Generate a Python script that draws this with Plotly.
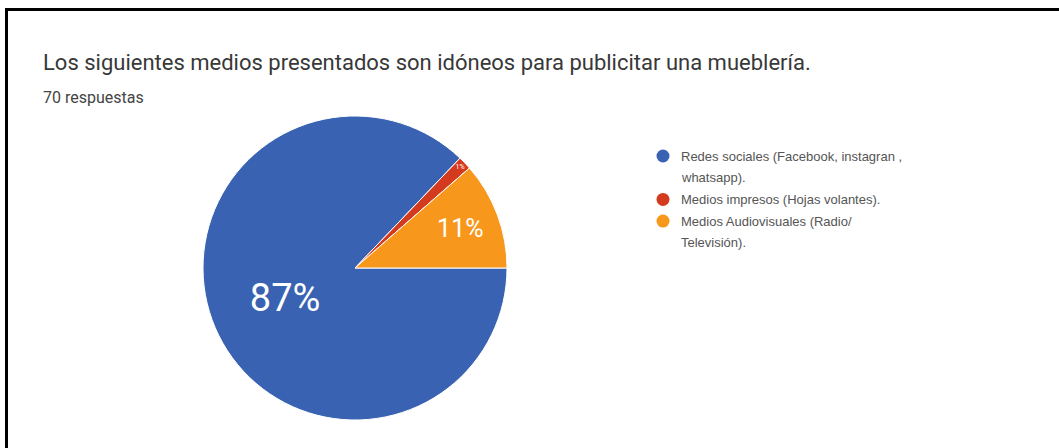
import plotly.graph_objects as go

# Survey results: 70 responses
categories = [
    "Redes sociales (Facebook, instagran ,<br>whatsapp).",
    "Medios impresos (Hojas volantes).",
    "Medios Audiovisuales (Radio/<br>Televisión).",
]
responses = [61, 1, 8]
colors = ["#3a62b2", "#d43a1e", "#f7981d"]
title_text = "Los siguientes medios presentados son idóneos para publicitar una mueblería."
subtitle_text = "70 respuestas"

W, H = 1059, 448

fig = go.Figure()

fig.add_trace(go.Pie(
    labels=[c.replace("<br>", " ") for c in categories],
    values=responses,
    marker=dict(colors=colors, line=dict(color="white", width=1)),
    sort=False,
    direction="clockwise",
    rotation=90,
    texttemplate="%{percent:.0%}",
    textposition="inside",
    insidetextorientation="horizontal",
    textfont=dict(family="Roboto", color="white", size=[38, 7, 25]),
    hoverinfo="label+value+percent",
    showlegend=False,
    domain=dict(x=[203 / W, 507 / W], y=[(H - 420) / H, (H - 116) / H]),
))

# Custom legend: circle swatches with wrapped labels
line_h = 21.7
y0 = 156
annotations = [
    dict(text=title_text, x=41 / W, y=1 - 62 / H, xref="paper", yref="paper",
         xanchor="left", yanchor="middle", showarrow=False,
         font=dict(family="Roboto", size=22, color="#383838")),
    dict(text=subtitle_text, x=41 / W, y=1 - 97 / H, xref="paper", yref="paper",
         xanchor="left", yanchor="middle", showarrow=False,
         font=dict(family="Roboto", size=16, color="#444444")),
]
shapes = []
row = 0
for label, col in zip(categories, colors):
    cy = y0 + row * line_h
    shapes.append(dict(type="circle", xref="paper", yref="paper",
                       x0=(663 - 6.5) / W, x1=(663 + 6.5) / W,
                       y0=1 - (cy + 6.5) / H, y1=1 - (cy - 6.5) / H,
                       fillcolor=col, line=dict(width=0)))
    for part in label.split("<br>"):
        annotations.append(dict(text=part, x=679 / W, y=1 - (y0 + row * line_h) / H,
                                xref="paper", yref="paper", xanchor="left", yanchor="middle",
                                showarrow=False,
                                font=dict(family="Liberation Sans", size=13, color="#555555")))
        row += 1

# Frame lines along the top and left edges
shapes.append(dict(type="line", xref="paper", yref="paper",
                   x0=6.5 / W, x1=6.5 / W, y0=0, y1=1 - 8 / H,
                   line=dict(color="black", width=3)))
shapes.append(dict(type="line", xref="paper", yref="paper",
                   x0=5 / W, x1=1, y0=1 - 9.5 / H, y1=1 - 9.5 / H,
                   line=dict(color="black", width=3)))

fig.update_layout(
    width=W, height=H,
    margin=dict(l=0, r=0, t=0, b=0),
    paper_bgcolor="white",
    plot_bgcolor="white",
    annotations=annotations,
    shapes=shapes,
)

fig.write_html("out.html")
